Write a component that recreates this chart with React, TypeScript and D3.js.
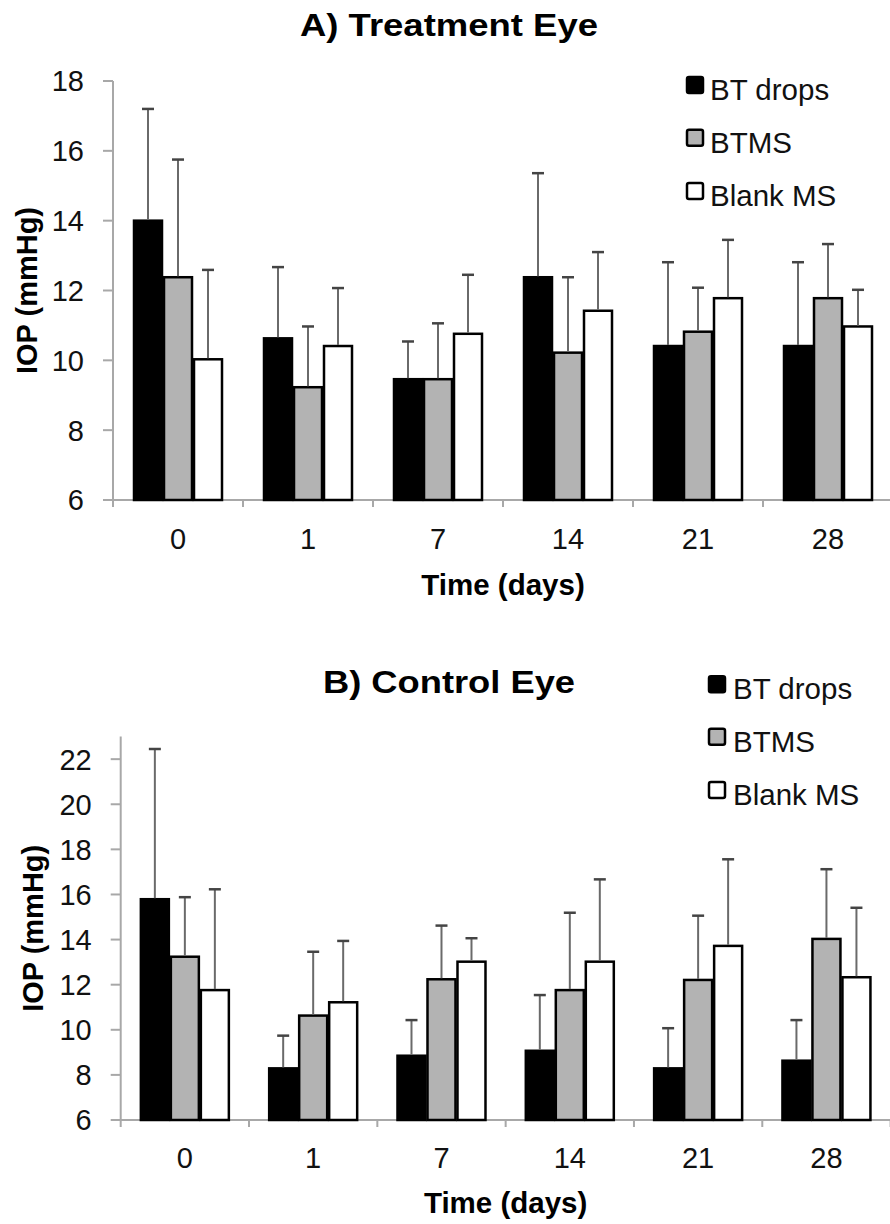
import React from "react";
import * as d3 from "d3";

const categories = ["0", "1", "7", "14", "21", "28"];
const seriesNames = ["BT drops", "BTMS", "Blank MS"];

const treatmentBT = [14.0, 10.63, 9.46, 12.38, 10.41, 10.41];
const treatmentBTErr = [3.2, 2.04, 1.08, 2.98, 2.4, 2.4];
const treatmentBTMS = [12.38, 9.23, 9.46, 10.22, 10.82, 11.78];
const treatmentBTMSErr = [3.37, 1.74, 1.6, 2.16, 1.26, 1.55];
const treatmentBlank = [10.03, 10.41, 10.76, 11.42, 11.78, 10.97];
const treatmentBlankErr = [2.56, 1.66, 1.69, 1.68, 1.67, 1.05];

const controlBT = [15.79, 8.29, 8.85, 9.07, 8.29, 8.63];
const controlBTErr = [6.66, 1.45, 1.58, 2.47, 1.78, 1.8];
const controlBTMS = [13.24, 10.63, 12.24, 11.76, 12.21, 14.03];
const controlBTMSErr = [2.64, 2.83, 2.38, 3.43, 2.85, 3.09];
const controlBlank = [11.76, 11.22, 13.02, 13.02, 13.72, 12.33];
const controlBlankErr = [4.47, 2.72, 1.04, 3.65, 3.84, 3.08];

const treatmentTicks = [6, 8, 10, 12, 14, 16, 18];
const controlTicks = [6, 8, 10, 12, 14, 16, 18, 20, 22];

const FILLS = ["#000000", "#b3b3b3", "#ffffff"];
const FONT = "'Liberation Sans', Arial, Helvetica, sans-serif";
const AXIS = "#a8a8a8";

type PanelProps = {
  title: string;
  titleX: number;
  titleY: number;
  titleLen: number;
  values: number[][];
  errors: number[][];
  domain: [number, number];
  ticks: number[];
  left: number;
  right: number;
  top: number;
  bottom: number;
  yLabelX: number;
  xTickY: number;
  xTitleY: number;
  legendX: number;
  legendTextX: number;
  legendY: number[];
};

function Panel(p: PanelProps) {
  const y = d3.scaleLinear().domain(p.domain).range([p.bottom, p.top]);
  const n = categories.length;
  const step = (p.right - p.left) / n;
  const pin = (step - 90) / step;
  const x0 = d3
    .scaleBand<string>()
    .domain(categories)
    .range([p.left, p.right])
    .paddingInner(pin)
    .paddingOuter(pin / 2);
  const x1 = d3
    .scaleBand<string>()
    .domain(seriesNames)
    .range([0, x0.bandwidth()]);
  const bw = x1.bandwidth();
  const boundaries = d3.range(n + 1).map((i) => p.left + i * step);
  const plotMid = (p.left + p.right) / 2;
  const yMid = (p.top + p.bottom) / 2;

  return (
    <g>
      <text
        x={p.titleX}
        y={p.titleY}
        textAnchor="middle"
        fontFamily={FONT}
        fontWeight="bold"
        fontSize={31}
        textLength={p.titleLen}
        lengthAdjust="spacingAndGlyphs"
        fill="#000"
      >
        {p.title}
      </text>
      {/* y axis */}
      <line x1={p.left} x2={p.left} y1={p.top} y2={p.bottom} stroke={AXIS} strokeWidth={2} />
      {p.ticks.map((t) => (
        <g key={t}>
          <line x1={p.left - 10} x2={p.left} y1={y(t)} y2={y(t)} stroke={AXIS} strokeWidth={2} />
          <text
            x={p.left - 29}
            y={y(t)}
            dy="0.36em"
            textAnchor="end"
            fontFamily={FONT}
            fontSize={29}
            fill="#111"
          >
            {t}
          </text>
        </g>
      ))}
      {/* x axis */}
      <line x1={p.left} x2={p.right} y1={p.bottom} y2={p.bottom} stroke={AXIS} strokeWidth={2} />
      {boundaries.map((b, i) => (
        <line key={i} x1={b} x2={b} y1={p.bottom} y2={p.bottom + 7} stroke={AXIS} strokeWidth={2} />
      ))}
      {categories.map((c) => (
        <text
          key={c}
          x={(x0(c) as number) + x0.bandwidth() / 2}
          y={p.xTickY}
          textAnchor="middle"
          fontFamily={FONT}
          fontSize={29}
          fill="#111"
        >
          {c}
        </text>
      ))}
      {/* bars */}
      {seriesNames.map((s, si) =>
        categories.map((c, ci) => {
          const v = p.values[si][ci];
          const bx = (x0(c) as number) + (x1(s) as number);
          return (
            <rect
              key={s + c}
              x={bx + 1}
              y={y(v)}
              width={bw - 2}
              height={p.bottom - y(v)}
              fill={FILLS[si]}
              stroke="#000"
              strokeWidth={2.5}
            />
          );
        })
      )}
      {/* error bars */}
      {seriesNames.map((s, si) =>
        categories.map((c, ci) => {
          const v = p.values[si][ci];
          const e = p.errors[si][ci];
          const cx = (x0(c) as number) + (x1(s) as number) + bw / 2;
          return (
            <g key={"e" + s + c}>
              <line x1={cx} x2={cx} y1={y(v) - 1} y2={y(v + e)} stroke="#6a6a6a" strokeWidth={2} />
              <line x1={cx - 6} x2={cx + 6} y1={y(v + e)} y2={y(v + e)} stroke="#444" strokeWidth={2.5} />
            </g>
          );
        })
      )}
      {/* y label */}
      <text
        transform={`translate(${p.yLabelX},${yMid}) rotate(-90)`}
        textAnchor="middle"
        fontFamily={FONT}
        fontWeight="bold"
        fontSize={29}
        fill="#000"
      >
        IOP (mmHg)
      </text>
      <text
        x={plotMid}
        y={p.xTitleY}
        textAnchor="middle"
        fontFamily={FONT}
        fontWeight="bold"
        fontSize={29.5}
        fill="#000"
      >
        Time (days)
      </text>
      {/* legend */}
      {seriesNames.map((s, si) => (
        <g key={"l" + s}>
          <rect
            x={p.legendX}
            y={p.legendY[si] - 23}
            width={16}
            height={16}
            rx={2}
            fill={FILLS[si]}
            stroke="#000"
            strokeWidth={2.5}
          />
          <text x={p.legendTextX} y={p.legendY[si]} fontFamily={FONT} fontSize={29.5} fill="#111">
            {s}
          </text>
        </g>
      ))}
    </g>
  );
}

export default function App() {
  return (
    <svg
      width={890}
      height={1224}
      viewBox="0 0 890 1224"
      style={{ position: "absolute", left: 0, top: 0, display: "block", background: "#fff" }}
    >
      <rect x={0} y={0} width={890} height={1224} fill="#fff" />
      <Panel
        title="A) Treatment Eye"
        titleX={449}
        titleY={36}
        titleLen={298}
        values={[treatmentBT, treatmentBTMS, treatmentBlank]}
        errors={[treatmentBTErr, treatmentBTMSErr, treatmentBlankErr]}
        domain={[6, 18]}
        ticks={treatmentTicks}
        left={113}
        right={893}
        top={81}
        bottom={500}
        yLabelX={37}
        xTickY={549}
        xTitleY={595}
        legendX={687}
        legendTextX={710}
        legendY={[100, 152.7, 206]}
      />
      <Panel
        title="B) Control Eye"
        titleX={449}
        titleY={693}
        titleLen={252}
        values={[controlBT, controlBTMS, controlBlank]}
        errors={[controlBTErr, controlBTMSErr, controlBlankErr]}
        domain={[6, 23]}
        ticks={controlTicks}
        left={120.7}
        right={890.6}
        top={736.6}
        bottom={1120}
        yLabelX={43}
        xTickY={1168}
        xTitleY={1213}
        legendX={709}
        legendTextX={733}
        legendY={[699.3, 751.7, 805]}
      />
    </svg>
  );
}
